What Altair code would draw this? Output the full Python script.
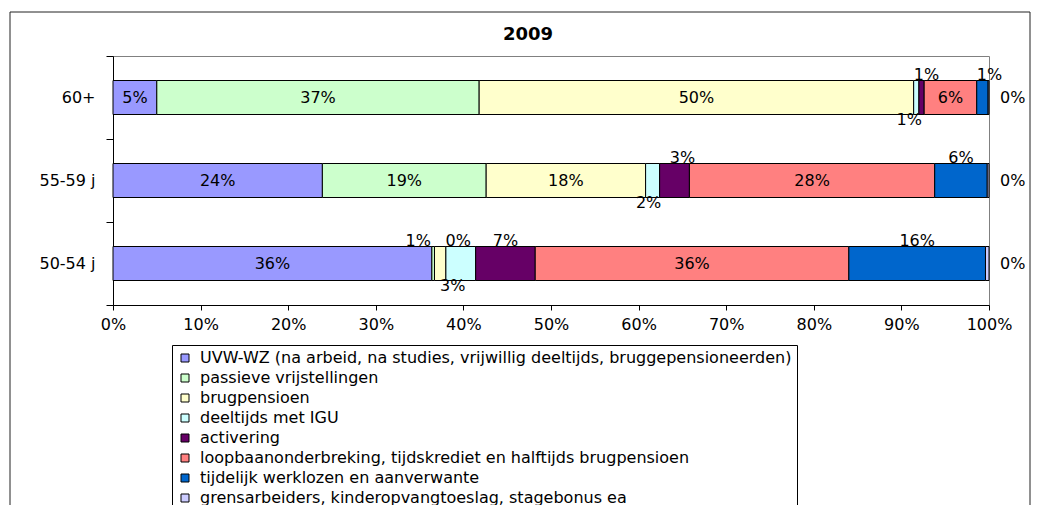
import altair as alt
import pandas as pd

ages = ["60+", "55-59 j", "50-54 j"]
series = [
    "UVW-WZ (na arbeid, na studies, vrijwillig deeltijds, bruggepensioneerden)",
    "passieve vrijstellingen",
    "brugpensioen",
    "deeltijds met IGU",
    "activering",
    "loopbaanonderbreking, tijdskrediet en halftijds brugpensioen",
    "tijdelijk werklozen en aanverwante",
    "grensarbeiders, kinderopvangtoeslag, stagebonus ea",
]
colors = ["#9999FF", "#CCFFCC", "#FFFFCC", "#CCFFFF", "#660066", "#FF8080", "#0066CC", "#CCCCFF"]

values_60 = [5.0, 36.8, 49.6, 0.6, 0.6, 6.0, 1.3, 0.1]
values_55 = [23.9, 18.7, 18.2, 1.6, 3.4, 28.0, 6.0, 0.2]
values_50 = [36.4, 0.3, 1.3, 3.4, 6.8, 35.8, 15.6, 0.4]
tick_values = [0, 10, 20, 30, 40, 50, 60, 70, 80, 90, 100]
title_text = "2009"

FONT = "DejaVu Sans"

# label placement for small segments (position relative to segment, pixel nudge)
PLACE = {
    ("60+", 3): ("below", -7), ("60+", 4): ("above", 5),
    ("60+", 6): ("above", 7), ("60+", 7): ("right", 0),
    ("55-59 j", 3): ("below", -4), ("55-59 j", 4): ("above", 8),
    ("55-59 j", 6): ("above", 0), ("55-59 j", 7): ("right", 0),
    ("50-54 j", 1): ("above", 25), ("50-54 j", 2): ("above", -22),
    ("50-54 j", 3): ("below", -8), ("50-54 j", 4): ("above", 0),
    ("50-54 j", 6): ("above", 0), ("50-54 j", 7): ("right", 0),
}

rows = []
for age, vals in zip(ages, [values_60, values_55, values_50]):
    for i, (s, v) in enumerate(zip(series, vals)):
        place, nudge = PLACE.get((age, i), ("in", 0))
        rows.append({"age": age, "series": s, "idx": i, "value": v, "place": place, "nudge": nudge})
df = pd.DataFrame(rows)

base = alt.Chart(df).transform_stack(
    stack="value", groupby=["age"], sort=[alt.SortField("idx")], as_=["x0", "x1"]
).transform_calculate(
    mid="(datum.x0 + datum.x1) / 2",
    label="format(datum.value, '.0f') + '%'",
)

y_enc = alt.Y(
    "age:N", sort=ages, title=None,
    scale=alt.Scale(paddingInner=0, paddingOuter=0),
    axis=alt.Axis(tickBand="extent", tickSize=7, labelPadding=11, labelFontSize=16,
                  labelFont=FONT, labelColor="black", domainColor="black", tickColor="black"),
)

bars = base.mark_bar(size=34, stroke="black", strokeWidth=1).encode(
    x=alt.X("x0:Q", title=None, scale=alt.Scale(domain=[0, 100], nice=False),
            axis=alt.Axis(values=tick_values, labelExpr="datum.value + '%'", grid=False,
                          tickSize=5, labelPadding=6, labelFontSize=16, labelFont=FONT,
                          labelColor="black", domainColor="black", tickColor="black",
                          labelOverlap=False, labelFlush=False)),
    x2="x1:Q",
    y=y_enc,
    color=alt.Color("series:N", sort=series,
                    scale=alt.Scale(domain=series, range=colors),
                    legend=alt.Legend(title=None, orient="none", legendX=59, legendY=289,
                                      direction="vertical", symbolType="square", symbolSize=64,
                                      symbolStrokeColor="black", symbolStrokeWidth=1,
                                      labelFontSize=16, labelFont=FONT, labelColor="black",
                                      strokeColor="black", fillColor="white", padding=5,
                                      rowPadding=4, labelLimit=1000, labelOffset=7)),
    order=alt.Order("idx:Q"),
)

layers = [bars]
combos = sorted({(r["place"], r["nudge"]) for r in rows})
for place, nudge in combos:
    if place == "right":
        kw = dict(align="left", dx=11 + nudge, dy=0)
        xf = "x1:Q"
    elif place == "above":
        kw = dict(align="center", dx=nudge, dy=-23)
        xf = "mid:Q"
    elif place == "below":
        kw = dict(align="center", dx=nudge, dy=22)
        xf = "mid:Q"
    else:
        kw = dict(align="center", dx=nudge, dy=0)
        xf = "mid:Q"
    t = base.transform_filter(
        f"datum.place == '{place}' && datum.nudge == {nudge}"
    ).mark_text(baseline="middle", fontSize=16, font=FONT, color="black", **kw).encode(
        x=alt.X(xf), y=alt.Y("age:N", sort=ages), text="label:N"
    )
    layers.append(t)

single = pd.DataFrame({"title": [title_text]})
title_mark = alt.Chart(single).mark_text(
    fontSize=18, fontWeight="bold", font=FONT, color="black", baseline="middle", align="center"
).encode(x=alt.value(415), y=alt.value(-21), text="title:N")

frame_top = alt.Chart(single).mark_rule(color="#222", strokeWidth=1).encode(
    x=alt.value(-103), x2=alt.value(917), y=alt.value(-44))
frame_left = alt.Chart(single).mark_rule(color="#222", strokeWidth=1).encode(
    x=alt.value(-103), y=alt.value(-44), y2=alt.value(470))
frame_right = alt.Chart(single).mark_rule(color="#222", strokeWidth=1).encode(
    x=alt.value(917), y=alt.value(-44), y2=alt.value(470))
layers += [title_mark, frame_top, frame_left, frame_right]

chart = alt.layer(*layers).properties(
    width=876, height=249,
    padding={"left": 105, "top": 48, "right": 44, "bottom": 205},
    autosize=alt.AutoSizeParams(type="none"),
).configure_view(stroke="#808080", strokeWidth=1)

chart.save("out.html", embed_options={"renderer": "svg", "actions": False})
